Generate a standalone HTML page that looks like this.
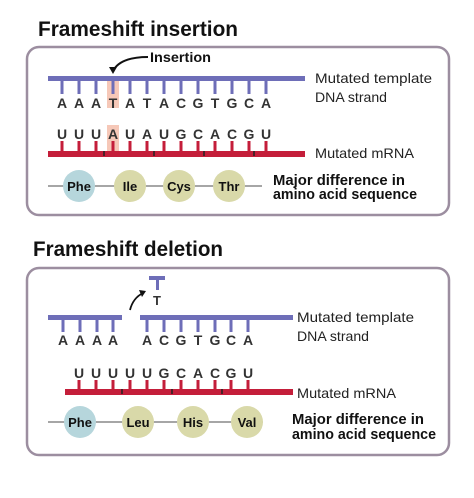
<!DOCTYPE html>
<html><head><style>body{margin:0;background:#fff}svg{display:block}</style></head><body>
<svg width="474" height="498" xmlns="http://www.w3.org/2000/svg" font-family="Liberation Sans, sans-serif">
<text x="38" y="36" font-size="21" font-weight="bold" fill="#111" textLength="200" lengthAdjust="spacingAndGlyphs">Frameshift insertion</text>
<text x="33" y="256" font-size="21" font-weight="bold" fill="#111" textLength="190" lengthAdjust="spacingAndGlyphs">Frameshift deletion</text>
<rect x="27" y="47" width="422" height="168" rx="12" fill="none" stroke="#9c8ea0" stroke-width="2.5"/>
<rect x="27" y="268" width="422" height="187" rx="12" fill="none" stroke="#9c8ea0" stroke-width="2.5"/>
<g id="p1">
<rect x="107" y="79" width="12" height="29" fill="#f6c8b8"/>
<rect x="107" y="125" width="12" height="28" fill="#f6c8b8"/>
<rect x="48" y="76" width="257" height="5" fill="#6e6eb8"/>
<g stroke="#6e6eb8" stroke-width="3">
<path d="M62 80V94M79 80V94M96 80V94M113 80V94M130 80V94M147 80V94M164 80V94M181 80V94M198 80V94M215 80V94M232 80V94M249 80V94M266 80V94"/></g>
<g font-size="14" font-weight="bold" fill="#333" text-anchor="middle">
<text x="62" y="108">A</text><text x="79" y="108">A</text><text x="96" y="108">A</text><text x="113" y="108">T</text><text x="130" y="108">A</text><text x="147" y="108">T</text><text x="164" y="108">A</text><text x="181" y="108">C</text><text x="198" y="108">G</text><text x="215" y="108">T</text><text x="232" y="108">G</text><text x="249" y="108">C</text><text x="266" y="108">A</text>
<text x="62" y="139">U</text><text x="79" y="139">U</text><text x="96" y="139">U</text><text x="113" y="139">A</text><text x="130" y="139">U</text><text x="147" y="139">A</text><text x="164" y="139">U</text><text x="181" y="139">G</text><text x="198" y="139">C</text><text x="215" y="139">A</text><text x="232" y="139">C</text><text x="249" y="139">G</text><text x="266" y="139">U</text></g>
<g stroke="#c41e3a" stroke-width="3"><path d="M62 141V152M79 141V152M96 141V152M113 141V152M130 141V152M147 141V152M164 141V152M181 141V152M198 141V152M215 141V152M232 141V152M249 141V152M266 141V152"/></g>
<rect x="48" y="151" width="257" height="6" fill="#c41e3a"/>
<g stroke="#222" stroke-width="1.5"><path d="M104 151V156M154 151V156M204 151V156M254 151V156"/></g>
<path d="M148 57 Q120 57 113 71" fill="none" stroke="#111" stroke-width="2"/>
<path d="M109 67 L113 74 L117 67 Z" fill="#111"/>
<text x="150" y="62" font-size="14" font-weight="bold" fill="#111" textLength="61" lengthAdjust="spacingAndGlyphs">Insertion</text>
<line x1="48" y1="186" x2="262" y2="186" stroke="#888" stroke-width="1.5"/>
<circle cx="79" cy="186" r="16" fill="#b6d6dc"/><circle cx="130" cy="186" r="16" fill="#d9d9a9"/><circle cx="179" cy="186" r="16" fill="#d9d9a9"/><circle cx="229" cy="186" r="16" fill="#d9d9a9"/>
<g font-size="13" font-weight="bold" fill="#111" text-anchor="middle"><text x="79" y="191">Phe</text><text x="130" y="191">Ile</text><text x="179" y="191">Cys</text><text x="229" y="191">Thr</text></g>
<text x="315" y="83" font-size="14" fill="#222" textLength="117" lengthAdjust="spacingAndGlyphs">Mutated template</text>
<text x="315" y="102" font-size="14" fill="#222" textLength="72" lengthAdjust="spacingAndGlyphs">DNA strand</text>
<text x="315" y="158" font-size="14" fill="#222" textLength="99" lengthAdjust="spacingAndGlyphs">Mutated mRNA</text>
<text x="273" y="185" font-size="14.5" font-weight="bold" fill="#111" textLength="132" lengthAdjust="spacingAndGlyphs">Major difference in</text>
<text x="273" y="199" font-size="14.5" font-weight="bold" fill="#111" textLength="144" lengthAdjust="spacingAndGlyphs">amino acid sequence</text>
</g>
<g id="p2">
<rect x="149" y="276" width="16" height="4" fill="#6e6eb8"/><rect x="156" y="278" width="3" height="12" fill="#6e6eb8"/>
<text x="157" y="305" font-size="13" font-weight="bold" fill="#333" text-anchor="middle">T</text>
<path d="M130 310 Q133 298 143 293" fill="none" stroke="#111" stroke-width="1.8"/>
<path d="M139 290 L146 291 L142 297 Z" fill="#111"/>
<rect x="48" y="315" width="74" height="5" fill="#6e6eb8"/>
<rect x="140" y="315" width="153" height="5" fill="#6e6eb8"/>
<g stroke="#6e6eb8" stroke-width="3"><path d="M63 319V332M80 319V332M97 319V332M113 319V332M147 319V332M164 319V332M181 319V332M198 319V332M215 319V332M231 319V332M248 319V332"/></g>
<g font-size="14" font-weight="bold" fill="#333" text-anchor="middle">
<text x="63" y="345">A</text><text x="80" y="345">A</text><text x="97" y="345">A</text><text x="113" y="345">A</text><text x="147" y="345">A</text><text x="164" y="345">C</text><text x="181" y="345">G</text><text x="198" y="345">T</text><text x="215" y="345">G</text><text x="231" y="345">C</text><text x="248" y="345">A</text>
<text x="79" y="378">U</text><text x="96" y="378">U</text><text x="113" y="378">U</text><text x="130" y="378">U</text><text x="147" y="378">U</text><text x="164" y="378">G</text><text x="181" y="378">C</text><text x="198" y="378">A</text><text x="215" y="378">C</text><text x="231" y="378">G</text><text x="248" y="378">U</text></g>
<g stroke="#c41e3a" stroke-width="3"><path d="M79 380V391M96 380V391M113 380V391M130 380V391M147 380V391M164 380V391M181 380V391M198 380V391M215 380V391M231 380V391M248 380V391"/></g>
<rect x="65" y="389" width="228" height="6" fill="#c41e3a"/>
<g stroke="#222" stroke-width="1.5"><path d="M122 389V394M172 389V394M222 389V394"/></g>
<line x1="48" y1="422" x2="263" y2="422" stroke="#888" stroke-width="1.5"/>
<circle cx="80" cy="422" r="16" fill="#b6d6dc"/><circle cx="138" cy="422" r="16" fill="#d9d9a9"/><circle cx="193" cy="422" r="16" fill="#d9d9a9"/><circle cx="247" cy="422" r="16" fill="#d9d9a9"/>
<g font-size="13" font-weight="bold" fill="#111" text-anchor="middle"><text x="80" y="427">Phe</text><text x="138" y="427">Leu</text><text x="193" y="427">His</text><text x="247" y="427">Val</text></g>
<text x="297" y="322" font-size="14" fill="#222" textLength="117" lengthAdjust="spacingAndGlyphs">Mutated template</text>
<text x="297" y="341" font-size="14" fill="#222" textLength="72" lengthAdjust="spacingAndGlyphs">DNA strand</text>
<text x="297" y="398" font-size="14" fill="#222" textLength="99" lengthAdjust="spacingAndGlyphs">Mutated mRNA</text>
<text x="292" y="424" font-size="14.5" font-weight="bold" fill="#111" textLength="132" lengthAdjust="spacingAndGlyphs">Major difference in</text>
<text x="292" y="439" font-size="14.5" font-weight="bold" fill="#111" textLength="144" lengthAdjust="spacingAndGlyphs">amino acid sequence</text>
</g>
</svg>
</body></html>
